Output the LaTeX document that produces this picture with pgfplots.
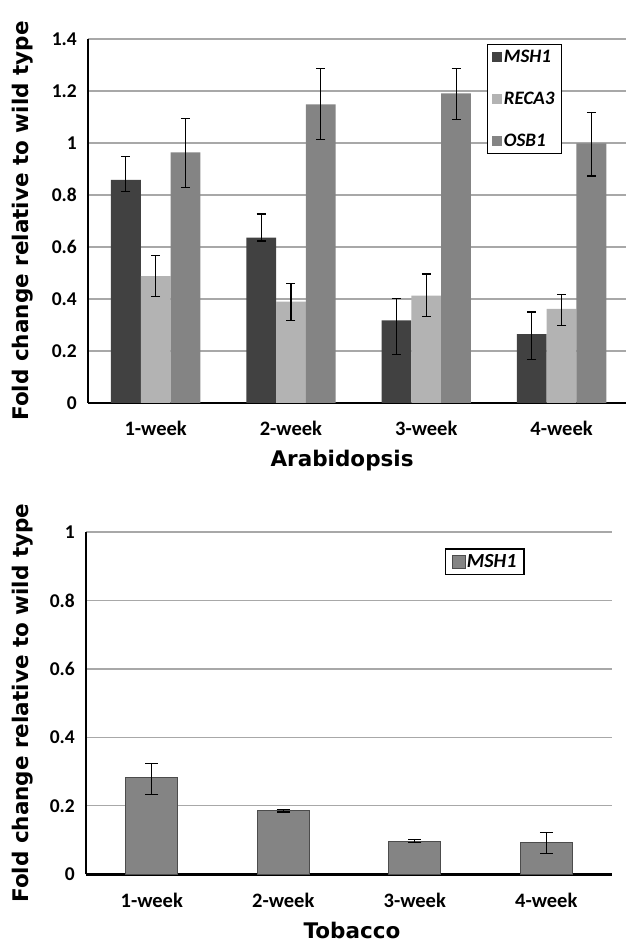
\documentclass[border=0pt]{standalone}
\usepackage{fontspec}
\setmainfont{Carlito}
\newfontfamily\labfont{DejaVu Sans}
\usepackage{pgfplots}
\pgfplotsset{compat=1.18}

\definecolor{msh}{HTML}{414141}
\definecolor{reca}{HTML}{B3B3B3}
\definecolor{osb}{HTML}{848484}
\definecolor{gridc}{HTML}{A8A8A8}

\pgfplotsset{
  weekaxis/.style={
    scale only axis, anchor=south west,
    axis x line=bottom, axis y line=left,
    axis line style={-},
    y axis line style={line width=1.3pt},
    major tick length=0pt,
    ymajorgrids, grid style={gridc, line width=1.3pt},
    xmin=-0.5, xmax=3.5, ymin=0,
    xtick={0,1,2,3}, xticklabels={1-week,2-week,3-week,4-week},
    xticklabel style={font=\fontsize{20.5}{24}\selectfont\bfseries, anchor=base, inner sep=0pt, yshift=-33pt},
    yticklabel style={font=\fontsize{19.5}{22}\selectfont\bfseries, anchor=east, inner sep=0pt, xshift=-11pt},
    /pgf/number format/assume math mode=true,
    ylabel={Fold change relative to wild type},
    label style={font=\fontsize{21.5}{26}\selectfont\labfont\bfseries},
    xlabel style={anchor=base, yshift=-63.7pt},
    ylabel style={anchor=center},
    error bars/y dir=both, error bars/y explicit,
    error bars/error bar style={line width=1.1pt, black},
    legend cell align=left,
  }
}

\begin{document}
\begin{tikzpicture}
\useasboundingbox (0,0) rectangle (626pt,942pt);
\clip (0,0) rectangle (626pt,942pt);

% Arabidopsis
\begin{axis}[weekaxis,
    at={(88pt,539pt)}, width=541.2pt, height=364pt,
    ymax=1.4, ytick={0,0.2,0.4,0.6,0.8,1,1.2,1.4},
    x axis line style={line width=2pt},
    ybar=0pt, bar width=29.8pt,
    error bars/error mark options={rotate=90, mark size=4.5pt, line width=1.1pt, black},
    xlabel={Arabidopsis},
    xlabel style={at={(axis description cs:0.4695,0)}},
    ylabel style={at={(axis description cs:-0.1201,0.5)}},
    legend style={at={(axis description cs:0.737,0.986)}, anchor=north west,
      draw=black, line width=1.2pt, font=\fontsize{19}{21}\selectfont\bfseries\itshape,
      row sep=25pt, inner xsep=5pt, inner ysep=4pt, nodes={inner sep=1.5pt}},
    legend image code/.code={\fill[#1, draw=none] (0pt,-5pt) rectangle (10pt,5pt);},
  ]
\addplot[fill=msh, draw=none] coordinates {
  (0,0.858) += (0,0.091) -= (0,0.043)
  (1,0.636) += (0,0.091) -= (0,0.013)
  (2,0.318) += (0,0.085) -= (0,0.130)
  (3,0.265) += (0,0.085) -= (0,0.096)};
\addplot[fill=reca, draw=none] coordinates {
  (0,0.488) += (0,0.080) -= (0,0.079)
  (1,0.390) += (0,0.070) -= (0,0.073)
  (2,0.413) += (0,0.083) -= (0,0.081)
  (3,0.362) += (0,0.056) -= (0,0.065)};
\addplot[fill=osb, draw=none] coordinates {
  (0,0.964) += (0,0.131) -= (0,0.136)
  (1,1.149) += (0,0.136) -= (0,0.137)
  (2,1.191) += (0,0.094) -= (0,0.100)
  (3,0.999) += (0,0.120) -= (0,0.126)};
\legend{MSH1,RECA3,OSB1}
\end{axis}

% Tobacco
\begin{axis}[weekaxis,
    at={(86pt,67.7pt)}, width=526pt, height=342.3pt,
    ymax=1, ytick={0,0.2,0.4,0.6,0.8,1},
    x axis line style={line width=3pt},
    ybar=0pt, bar width=52pt,
    error bars/error mark options={rotate=90, mark size=6.5pt, line width=1.1pt, black},
    xlabel={Tobacco},
    xlabel style={at={(axis description cs:0.5057,0)}},
    ylabel style={at={(axis description cs:-0.1198,0.5)}},
    legend style={at={(axis description cs:0.6825,0.952)}, anchor=north west,
      draw=black, line width=1.2pt, font=\fontsize{20}{22}\selectfont\bfseries\itshape,
      inner xsep=6pt, inner ysep=4pt, nodes={inner sep=1.5pt}},
    legend image code/.code={\fill[#1] (0pt,-6.5pt) rectangle (13pt,6.5pt);},
  ]
\addplot[fill=osb, draw=black!70, line width=0.8pt] coordinates {
  (0,0.282) += (0,0.043) -= (0,0.048)
  (1,0.186) += (0,0.004) -= (0,0.004)
  (2,0.0966) += (0,0.004) -= (0,0.004)
  (3,0.0925) += (0,0.030) -= (0,0.031)};
\legend{MSH1}
\end{axis}
\end{tikzpicture}
\end{document}
